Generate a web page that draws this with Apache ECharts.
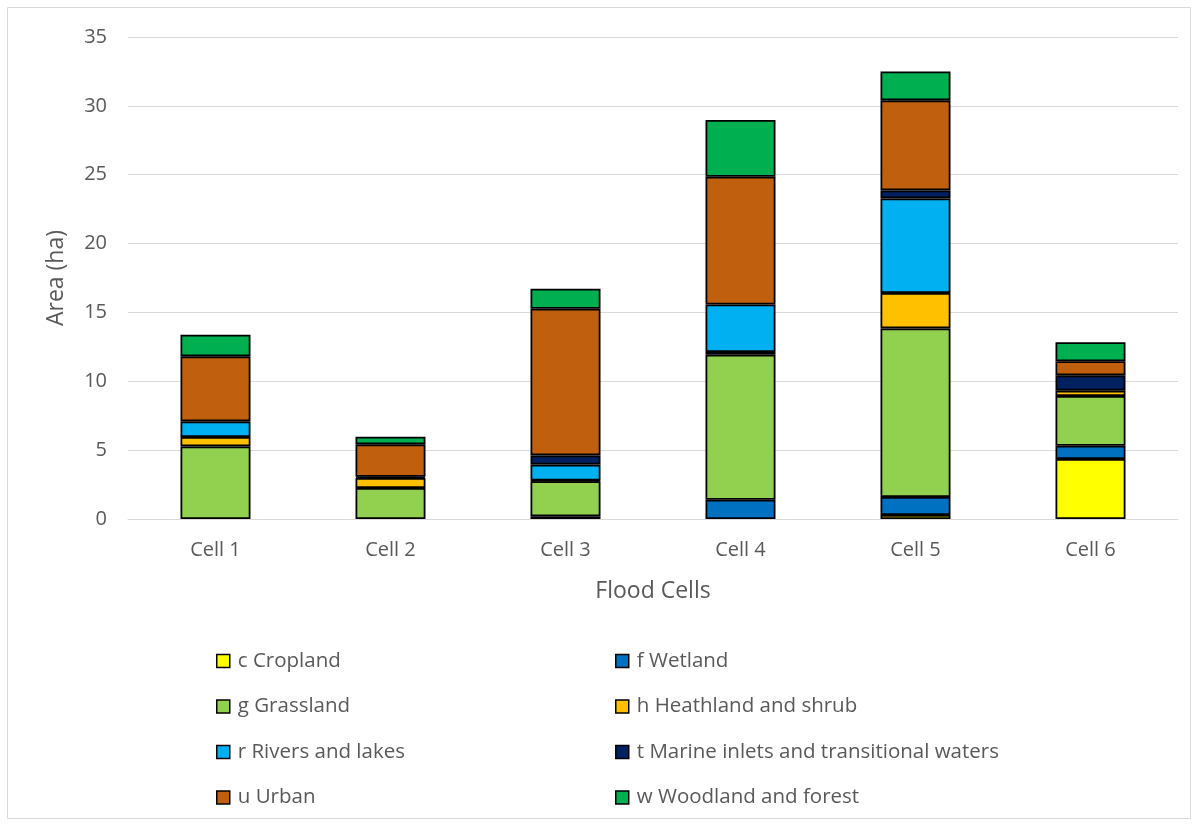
<!DOCTYPE html>
<html>
<head>
<meta charset="utf-8">
<script src="https://cdn.jsdelivr.net/npm/echarts@6/dist/echarts.min.js"></script>
<style>
  html, body { margin: 0; padding: 0; background: #fff; }
  #main { width: 1199px; height: 825px; }
</style>
</head>
<body>
<div id="main"></div>
<script>
// categories and y ticks
const cells = ['Cell 1', 'Cell 2', 'Cell 3', 'Cell 4', 'Cell 5', 'Cell 6'];
const yTicks = [0, 5, 10, 15, 20, 25, 30, 35];

// land cover areas (ha)
const cropland  = [0,    0,    0,    0,    0.29, 4.36];
const wetland   = [0,    0,    0.2,  1.4,  1.31, 0.96];
const grassland = [5.27, 2.25, 2.55, 10.53, 12.24, 3.61];
const heathland = [0.68, 0.73, 0.05, 0.2,  2.57, 0.39];
const rivers    = [1.14, 0,    1.15, 3.45, 6.87, 0];
const marine    = [0,    0.08, 0.67, 0,    0.58, 1.11];
const urban     = [4.72, 2.36, 10.65, 9.27, 6.54, 1.02];
const woodland  = [1.57, 0.56, 1.45, 4.12, 2.1,  1.38];

const FONT = '"Open Sans", sans-serif';
const GREY = '#595959';

// name, data, colour
const layers = [
    ['c Cropland', cropland, '#FFFF00'],
    ['f Wetland', wetland, '#0070C0'],
    ['g Grassland', grassland, '#92D050'],
    ['h Heathland and shrub', heathland, '#FFC000'],
    ['r Rivers and lakes', rivers, '#00B0F0'],
    ['t Marine inlets and transitional waters', marine, '#002060'],
    ['u Urban', urban, '#C0600F'],
    ['w Woodland and forest', woodland, '#00B050'],
];

const chart = echarts.init(document.getElementById('main'));

const legendBase = {
    orient: 'vertical',
    top: 649,
    padding: 0,
    itemWidth: 13,
    itemHeight: 13,
    itemGap: 21.5,
    icon: 'rect',
    itemStyle: { borderColor: '#000', borderWidth: 1.5 },
    textStyle: { fontFamily: FONT, fontSize: 20.5, color: GREY, lineHeight: 24, padding: [0, 0, 0, 3] },
};

chart.setOption({
    animation: false,
    textStyle: { fontFamily: FONT },
    graphic: [{
        type: 'rect',
        shape: { x: 7.5, y: 7.5, width: 1183, height: 811 },
        style: { fill: 'none', stroke: '#d9d9d9', lineWidth: 1 },
        silent: true,
    }],
    grid: { left: 128, right: 21, top: 37, bottom: 306 },
    legend: [
        Object.assign({}, legendBase, {
            left: 216,
            data: [layers[0][0], layers[2][0], layers[4][0], layers[6][0]],
        }),
        Object.assign({}, legendBase, {
            left: 615,
            data: [layers[1][0], layers[3][0], layers[5][0], layers[7][0]],
        }),
    ],
    xAxis: {
        type: 'category',
        data: cells,
        name: 'Flood Cells',
        nameLocation: 'middle',
        nameGap: 61,
        nameTextStyle: { fontFamily: FONT, fontSize: 23, color: GREY },
        axisLine: { lineStyle: { color: '#d9d9d9', width: 1 } },
        axisTick: { show: false },
        axisLabel: { fontFamily: FONT, fontSize: 20, color: GREY, margin: 21 },
    },
    yAxis: {
        type: 'value',
        min: yTicks[0],
        max: yTicks[yTicks.length - 1],
        interval: 5,
        name: 'Area (ha)',
        nameLocation: 'middle',
        nameGap: 60,
        nameTextStyle: { fontFamily: FONT, fontSize: 23, color: GREY },
        axisLine: { show: false },
        axisTick: { show: false },
        splitLine: { lineStyle: { color: '#d9d9d9', width: 1 } },
        axisLabel: { fontFamily: FONT, fontSize: 20, color: GREY, margin: 21 },
    },
    series: layers.map(([name, data, color]) => ({
        name: name,
        type: 'bar',
        stack: 'area',
        // zero areas are left out so they draw no empty outline
        data: data.map((v) => (v === 0 ? '-' : v)),
        barWidth: 70,
        itemStyle: { color: color, borderColor: '#000', borderWidth: 1.8 },
    })),
});
</script>
</body>
</html>
